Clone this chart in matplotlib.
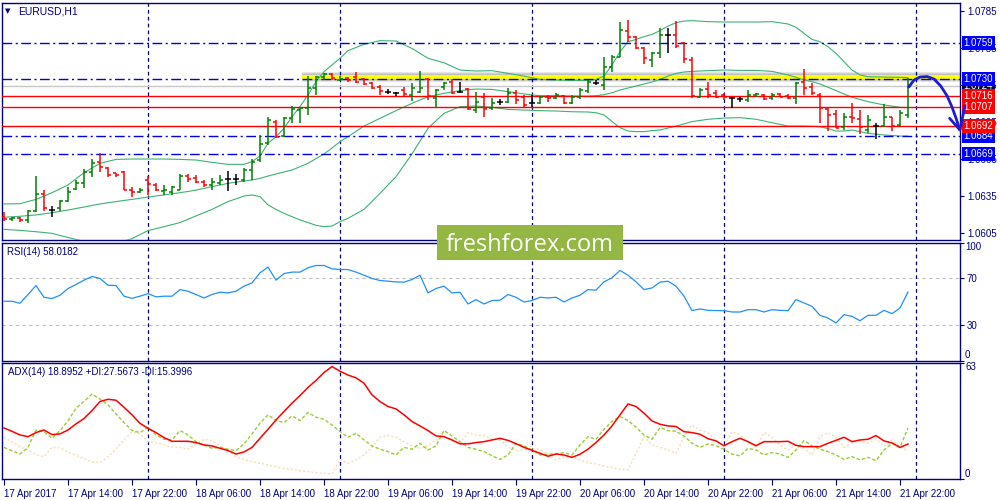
import numpy as np
import pandas as pd
import matplotlib.pyplot as plt
import matplotlib.transforms as mtransforms
from matplotlib.patches import Rectangle

plt.rcParams['font.family'] = ['Liberation Sans', 'DejaVu Sans']

# EURUSD H1 bars, first bar = 17 Apr 2017 06:00
open_ = [1.06184, 1.06163, 1.06171, 1.06157, 1.06233, 1.06368, 1.06239, 1.06252, 1.06311, 1.06411,
         1.06454, 1.06549, 1.06630, 1.06581, 1.06535, 1.06549, 1.06399, 1.06387, 1.06481, 1.06441,
         1.06395, 1.06387, 1.06403, 1.06513, 1.06494, 1.06467, 1.06441, 1.06459, 1.06486, 1.06486,
         1.06481, 1.06562, 1.06643, 1.06778, 1.06954, 1.06837, 1.06981, 1.07048, 1.07064, 1.07224,
         1.07313, 1.07340, 1.07291, 1.07304, 1.07313, 1.07296, 1.07264, 1.07232, 1.07197, 1.07183,
         1.07210, 1.07170, 1.07197, 1.07296, 1.07143, 1.07232, 1.07278, 1.07197, 1.07215, 1.07048,
         1.07151, 1.07064, 1.07110, 1.07116, 1.07188, 1.07156, 1.07102, 1.07102, 1.07156, 1.07143,
         1.07163, 1.07102, 1.07151, 1.07205, 1.07269, 1.07250, 1.07399, 1.07480, 1.07691, 1.07637,
         1.07547, 1.07453, 1.07507, 1.07656, 1.07656, 1.07593, 1.07453, 1.07156, 1.07215, 1.07183,
         1.07170, 1.07143, 1.07134, 1.07129, 1.07170, 1.07170, 1.07143, 1.07178, 1.07163, 1.07143,
         1.07278, 1.07232, 1.07170, 1.07053, 1.07016, 1.06913, 1.06989, 1.06973, 1.06886, 1.06918,
         1.06918, 1.06989, 1.06927, 1.07008]
high = [1.06225, 1.06179, 1.06184, 1.06239, 1.06516, 1.06403, 1.06271, 1.06319, 1.06422, 1.06481,
        1.06567, 1.06648, 1.06697, 1.06589, 1.06540, 1.06557, 1.06427, 1.06414, 1.06513, 1.06454,
        1.06441, 1.06433, 1.06527, 1.06527, 1.06521, 1.06481, 1.06494, 1.06521, 1.06557, 1.06527,
        1.06575, 1.06648, 1.06846, 1.06989, 1.06967, 1.06989, 1.07080, 1.07070, 1.07323, 1.07323,
        1.07350, 1.07350, 1.07323, 1.07313, 1.07359, 1.07304, 1.07278, 1.07250, 1.07215, 1.07197,
        1.07232, 1.07269, 1.07367, 1.07304, 1.07215, 1.07278, 1.07296, 1.07278, 1.07224, 1.07197,
        1.07183, 1.07143, 1.07134, 1.07224, 1.07210, 1.07170, 1.07170, 1.07163, 1.07170, 1.07183,
        1.07170, 1.07170, 1.07224, 1.07291, 1.07291, 1.07480, 1.07494, 1.07764, 1.07777, 1.07647,
        1.07561, 1.07521, 1.07710, 1.07710, 1.07772, 1.07601, 1.07480, 1.07224, 1.07278, 1.07210,
        1.07183, 1.07151, 1.07156, 1.07210, 1.07188, 1.07175, 1.07188, 1.07188, 1.07178, 1.07278,
        1.07377, 1.07264, 1.07183, 1.07075, 1.07048, 1.07026, 1.07102, 1.07048, 1.07008, 1.06945,
        1.07097, 1.06994, 1.07048, 1.07304]
low = [1.06152, 1.06152, 1.06144, 1.06136, 1.06225, 1.06233, 1.06179, 1.06233, 1.06306, 1.06399,
       1.06414, 1.06508, 1.06549, 1.06508, 1.06508, 1.06403, 1.06341, 1.06379, 1.06360, 1.06395,
       1.06360, 1.06360, 1.06399, 1.06467, 1.06454, 1.06427, 1.06403, 1.06441, 1.06395, 1.06441,
       1.06467, 1.06481, 1.06630, 1.06764, 1.06819, 1.06832, 1.06940, 1.06945, 1.07008, 1.07170,
       1.07291, 1.07291, 1.07286, 1.07278, 1.07264, 1.07250, 1.07215, 1.07170, 1.07175, 1.07164,
       1.07163, 1.07124, 1.07183, 1.07129, 1.07070, 1.07210, 1.07178, 1.07183, 1.07048, 1.07021,
       1.06989, 1.07048, 1.07089, 1.07102, 1.07097, 1.07075, 1.07075, 1.07097, 1.07116, 1.07134,
       1.07097, 1.07097, 1.07134, 1.07183, 1.07250, 1.07210, 1.07359, 1.07475, 1.07601, 1.07539,
       1.07421, 1.07399, 1.07467, 1.07512, 1.07547, 1.07426, 1.07143, 1.07143, 1.07143, 1.07143,
       1.07129, 1.07064, 1.07116, 1.07116, 1.07156, 1.07129, 1.07129, 1.07151, 1.07134, 1.07097,
       1.07170, 1.07170, 1.06945, 1.06881, 1.06900, 1.06886, 1.06945, 1.06854, 1.06859, 1.06810,
       1.06913, 1.06881, 1.06918, 1.06981]
close = [1.06165, 1.06173, 1.06157, 1.06233, 1.06368, 1.06252, 1.06239, 1.06311, 1.06387, 1.06454,
         1.06549, 1.06621, 1.06589, 1.06521, 1.06521, 1.06403, 1.06381, 1.06403, 1.06449, 1.06403,
         1.06399, 1.06422, 1.06516, 1.06492, 1.06467, 1.06441, 1.06467, 1.06481, 1.06486, 1.06486,
         1.06562, 1.06630, 1.06773, 1.06967, 1.06832, 1.06981, 1.07053, 1.07064, 1.07224, 1.07313,
         1.07340, 1.07304, 1.07302, 1.07291, 1.07278, 1.07259, 1.07224, 1.07205, 1.07197, 1.07183,
         1.07178, 1.07224, 1.07224, 1.07164, 1.07210, 1.07264, 1.07183, 1.07197, 1.07053, 1.07116,
         1.07053, 1.07107, 1.07110, 1.07188, 1.07129, 1.07089, 1.07102, 1.07156, 1.07143, 1.07170,
         1.07102, 1.07156, 1.07210, 1.07278, 1.07269, 1.07399, 1.07475, 1.07696, 1.07637, 1.07547,
         1.07467, 1.07512, 1.07656, 1.07656, 1.07566, 1.07458, 1.07163, 1.07210, 1.07170, 1.07156,
         1.07151, 1.07143, 1.07134, 1.07170, 1.07178, 1.07137, 1.07170, 1.07156, 1.07143, 1.07269,
         1.07224, 1.07183, 1.07064, 1.07008, 1.06900, 1.06994, 1.06981, 1.06913, 1.06967, 1.06918,
         1.06989, 1.06918, 1.07021, 1.07240]

# Bollinger bands (20, 2) read at these bar indices
band_idx = [0, 2, 4, 6, 8, 10, 12, 14, 16, 18, 20, 22, 24, 26, 28, 30,
            31, 32, 33, 34, 35, 36, 37, 38, 39, 40, 41, 42, 43,
            45, 47, 49, 51, 53, 55, 57, 59, 61, 63, 65, 67, 69, 71, 73,
            74, 75, 76, 77, 78, 79, 80, 81, 82, 83, 84, 85, 86,
            88, 90, 92, 94, 96, 98,
            99, 100, 101, 102, 103, 104, 105, 106, 107, 108,
            110, 112, 113]
bb_upper = [1.06287, 1.06289, 1.06324, 1.06378, 1.06441, 1.06540, 1.06616, 1.06648, 1.06651, 1.06651,
            1.06651, 1.06648, 1.06643, 1.06624, 1.06608, 1.06608,
            1.06630, 1.06675, 1.06778, 1.06832, 1.06900, 1.06994, 1.07075, 1.07170, 1.07278, 1.07359,
            1.07413, 1.07467, 1.07529,
            1.07580, 1.07610, 1.07607, 1.07547, 1.07467, 1.07431, 1.07372, 1.07364, 1.07367, 1.07345,
            1.07323, 1.07296, 1.07291, 1.07288, 1.07288,
            1.07296, 1.07323, 1.07413, 1.07521, 1.07601, 1.07620, 1.07642, 1.07661, 1.07691, 1.07728,
            1.07755, 1.07769, 1.07772,
            1.07764, 1.07761, 1.07761, 1.07761, 1.07764, 1.07745,
            1.07718, 1.07669, 1.07620, 1.07601, 1.07561, 1.07507, 1.07440, 1.07372, 1.07332, 1.07318,
            1.07315, 1.07313, 1.07310]
bb_middle = [1.06179, 1.06187, 1.06198, 1.06216, 1.06238, 1.06262, 1.06287, 1.06306, 1.06324, 1.06343,
             1.06360, 1.06378, 1.06399, 1.06427, 1.06454, 1.06473,
             1.06481, 1.06494, 1.06513, 1.06530, 1.06546, 1.06562, 1.06589, 1.06616, 1.06654, 1.06692,
             1.06740, 1.06792, 1.06832,
             1.06918, 1.06981, 1.07043, 1.07102, 1.07156, 1.07183, 1.07205, 1.07218, 1.07215, 1.07197,
             1.07178, 1.07164, 1.07164, 1.07161, 1.07161,
             1.07164, 1.07172, 1.07188, 1.07210, 1.07226, 1.07242, 1.07259, 1.07275, 1.07296, 1.07323,
             1.07345, 1.07356, 1.07361,
             1.07367, 1.07372, 1.07369, 1.07369, 1.07361, 1.07332,
             1.07313, 1.07291, 1.07278, 1.07259, 1.07232, 1.07205, 1.07178, 1.07151, 1.07134, 1.07116,
             1.07089, 1.07070, 1.07067]
bb_lower = [1.06081, 1.06073, 1.06062, 1.06049, 1.06015, 1.05984, 1.05968, 1.05968, 1.06006, 1.06071,
            1.06103, 1.06136, 1.06190, 1.06243, 1.06306, 1.06351,
            1.06360, 1.06346, 1.06279, 1.06243, 1.06211, 1.06184, 1.06157, 1.06136, 1.06114, 1.06103,
            1.06108, 1.06144, 1.06171,
            1.06243, 1.06373, 1.06508, 1.06692, 1.06900, 1.07021, 1.07075, 1.07080, 1.07070, 1.07053,
            1.07048, 1.07043, 1.07040, 1.07034, 1.07032,
            1.07026, 1.07008, 1.06954, 1.06905, 1.06878, 1.06873, 1.06873, 1.06881, 1.06886, 1.06902,
            1.06918, 1.06935, 1.06954,
            1.06973, 1.06983, 1.06986, 1.06973, 1.06945, 1.06918,
            1.06918, 1.06918, 1.06916, 1.06913, 1.06897, 1.06878, 1.06878, 1.06886, 1.06873, 1.06859,
            1.06846, 1.06837, 1.06837]

rsi = [50.2, 50.2, 48.5, 55.9, 63.5, 53.6, 52.5, 55.3, 61.0, 64.4,
       68.1, 71.2, 69.5, 63.8, 63.5, 54.5, 52.7, 54.5, 56.7, 53.9,
       54.5, 54.5, 60.1, 58.7, 55.9, 53.0, 55.9, 57.9, 57.3, 58.7,
       63.0, 65.8, 74.3, 79.1, 68.1, 73.7, 74.9, 74.9, 78.6, 80.5,
       80.5, 77.7, 77.1, 77.1, 74.9, 72.3, 69.5, 67.8, 67.2, 66.6,
       66.4, 68.6, 72.3, 57.3, 61.0, 63.0, 57.3, 57.9, 47.9, 51.6,
       47.9, 50.8, 51.1, 55.9, 53.6, 49.6, 50.8, 53.6, 53.0, 53.6,
       49.6, 53.0, 55.3, 60.1, 59.6, 66.7, 70.1, 76.3, 72.3, 66.7,
       60.1, 61.5, 66.4, 67.2, 63.0, 54.5, 42.3, 43.7, 42.5, 42.3,
       42.3, 41.1, 41.1, 43.1, 43.1, 41.1, 43.1, 42.5, 42.3, 51.6,
       48.8, 45.9, 38.3, 36.0, 31.8, 38.8, 37.4, 33.7, 38.3, 38.3,
       42.5, 39.7, 44.5, 58.0]

adx = [27.6, 25.8, 23.8, 22.9, 25.1, 26.5, 24.0, 24.4, 26.5, 29.8,
       32.7, 37.0, 41.9, 43.1, 42.6, 38.8, 34.7, 30.1, 27.4, 25.1,
       22.4, 20.4, 20.4, 20.4, 19.7, 18.4, 17.9, 16.6, 15.4, 13.5,
       14.6, 17.1, 22.0, 26.9, 31.9, 36.5, 41.0, 45.1, 49.5, 53.3,
       57.6, 60.8, 58.3, 56.2, 54.7, 51.8, 45.5, 41.9, 39.2, 37.9,
       34.7, 31.1, 28.7, 26.2, 23.3, 22.9, 21.1, 19.0, 19.0, 19.7,
       20.2, 21.1, 22.0, 20.9, 19.1, 17.1, 15.5, 13.9, 12.3, 13.5,
       13.0, 11.7, 13.4, 16.1, 19.7, 23.8, 28.7, 34.7, 40.6, 39.2,
       35.6, 31.4, 29.6, 28.7, 28.4, 25.6, 25.1, 24.2, 21.8, 20.6,
       18.0, 20.2, 22.0, 20.2, 18.0, 20.2, 20.2, 20.2, 20.4, 18.2,
       17.5, 17.5, 17.5, 19.3, 20.9, 22.6, 20.2, 21.1, 21.5, 23.5,
       20.6, 19.5, 17.1, 18.9]
plus_di = [17.1, 15.3, 13.5, 17.1, 26.5, 25.6, 22.0, 26.2, 31.4, 38.3,
           41.9, 45.9, 43.2, 40.1, 35.2, 30.5, 26.2, 25.1, 28.0, 23.8,
           21.5, 21.1, 26.2, 23.8, 20.2, 18.4, 16.6, 17.1, 16.1, 15.3,
           19.0, 24.4, 30.2, 34.7, 31.6, 30.5, 34.1, 31.6, 36.0, 33.4,
           32.3, 29.2, 25.6, 22.6, 24.7, 21.1, 17.9, 16.1, 14.8, 13.0,
           17.1, 16.1, 19.3, 15.7, 17.9, 26.2, 23.3, 20.2, 17.1, 16.1,
           14.8, 12.6, 10.6, 13.0, 19.3, 17.9, 15.7, 13.0, 13.5, 13.5,
           14.3, 13.0, 18.4, 22.9, 21.5, 26.9, 31.1, 33.8, 31.6, 28.0,
           23.8, 21.5, 27.8, 26.2, 25.8, 23.3, 19.3, 17.1, 19.0, 18.0,
           16.1, 13.5, 12.5, 16.6, 15.7, 13.0, 14.3, 13.5, 11.7, 15.7,
           20.8, 17.9, 16.1, 14.8, 13.0, 10.6, 12.1, 10.3, 11.7, 9.9,
           15.7, 19.3, 17.1, 27.6]
minus_di = [22.6, 20.0, 17.5, 15.7, 13.2, 12.1, 17.1, 16.8, 14.6, 12.8,
            11.0, 9.2, 8.8, 12.1, 16.2, 21.1, 25.5, 24.4, 20.2, 19.7,
            18.4, 17.1, 17.1, 16.1, 19.0, 21.5, 20.8, 17.9, 15.3, 12.1,
            10.6, 9.4, 8.5, 7.6, 6.7, 5.8, 5.2, 4.5, 4.0, 3.4,
            3.1, 2.7, 10.6, 8.5, 10.3, 13.0, 17.1, 22.6, 23.6, 22.6,
            20.2, 17.9, 16.6, 17.9, 21.1, 22.6, 21.5, 19.3, 25.1, 23.8,
            23.3, 21.5, 21.1, 17.1, 15.3, 16.1, 16.6, 16.1, 13.5, 10.3,
            12.1, 12.1, 10.3, 8.8, 8.1, 7.0, 6.3, 5.2, 4.9, 13.9,
            22.9, 18.4, 17.1, 15.7, 13.9, 22.9, 29.2, 26.5, 25.1, 21.1,
            17.1, 25.6, 23.8, 20.2, 16.6, 25.1, 22.6, 18.4, 15.7, 18.4,
            16.6, 13.0, 22.9, 25.1, 22.6, 17.1, 19.7, 20.2, 19.3, 21.5,
            17.9, 21.1, 17.1, 15.4]

levels_blue = [1.0759, 1.0730, 1.0684, 1.0669]
levels_red = [1.0716, 1.0707, 1.0692]
bid = 1.0724
zone_start = 37.25  # yellow resistance zone starts here (bar index)

price_ticks = [1.0605, 1.0635, 1.0665, 1.0695, 1.0725, 1.0755, 1.0785]
x_labels = ['17 Apr 2017', '17 Apr 14:00', '17 Apr 22:00', '18 Apr 06:00', '18 Apr 14:00',
            '18 Apr 22:00', '19 Apr 06:00', '19 Apr 14:00', '19 Apr 22:00', '20 Apr 06:00',
            '20 Apr 14:00', '20 Apr 22:00', '21 Apr 06:00', '21 Apr 14:00', '21 Apr 22:00']

# hand drawn forecast arrow (bar index, price)
arrow_path = [(113.1, 1.07234), (113.75, 1.07291), (114.5, 1.07315), (115.4, 1.07319),
              (116.25, 1.07299), (117.1, 1.07242), (117.9, 1.07161), (118.5, 1.07072),
              (119.0, 1.06983), (119.45, 1.06890)]
arrow_head = [(118.2, 1.06981), (119.5, 1.06886), (120.1, 1.07080)]

NAVY = '#000080'
W, H = 1000, 500
fig = plt.figure(figsize=(10, 5), dpi=100)
fig.patch.set_facecolor('white')


def px_axes(left, top, right, bottom):
    return fig.add_axes([left / W, 1 - bottom / H, (right - left) / W, (bottom - top) / H])


ax = px_axes(2, 3, 960, 239.5)
ax_rsi = px_axes(2, 242.5, 960, 360.5)
ax_adx = px_axes(2, 362.5, 960, 479)

bar_times = pd.date_range('2017-04-17 06:00', periods=120, freq='h')
separators = np.where(bar_times.hour == 0)[0]

for a in (ax, ax_rsi, ax_adx):
    a.set_xlim(-0.25, 119.5)
    for s in a.spines.values():
        s.set_color(NAVY)
        s.set_linewidth(1)
    for s in separators:
        a.axvline(s, color=NAVY, lw=0.9, ls=(0, (3, 2.5)), zorder=2)
    a.yaxis.tick_right()
    a.tick_params(axis='y', direction='out', length=3, width=0.8, colors=NAVY, labelsize=7, pad=2)

ax.tick_params(axis='x', bottom=False, labelbottom=False)
ax_rsi.tick_params(axis='x', bottom=False, labelbottom=False)

# ---- price panel ----
o, h, l, c = map(np.array, (open_, high, low, close))
xi = np.arange(len(c))
cols = np.where(c > o, '#008000', np.where(c < o, '#ff0000', '#000000'))
ax.vlines(xi, l, h, colors=cols, lw=1.1, zorder=4)
ax.hlines(o, xi - 0.4, xi, colors=cols, lw=1.1, zorder=4)
ax.hlines(c, xi, xi + 0.4, colors=cols, lw=1.1, zorder=4)

for band in (bb_upper, bb_middle, bb_lower):
    ax.plot(band_idx, band, color='#3cb371', lw=0.8, zorder=3)

# yellow zone with soft grey shadow
for k in range(6, 0, -1):
    ax.add_patch(Rectangle((zone_start, 1.07299 - k * 0.00004), 119.5 - zone_start,
                           0.00033 + 2 * k * 0.00004, fc='#808080', ec='none', alpha=0.1, zorder=1))
ax.add_patch(Rectangle((zone_start, 1.07299), 119.5 - zone_start, 0.00033,
                       fc='#ffff00', ec='none', zorder=1.5))

ax.axhline(bid, color='#c8c8c8', lw=1, zorder=2)
for v in levels_blue:
    ax.axhline(v, color='#0000e6', lw=1, ls=(0, (7, 2.5, 1.5, 2.5)), zorder=3)
for v in levels_red:
    ax.axhline(v, color='#ff0000', lw=1, zorder=3)

ax.set_ylim(1.05999, 1.07915)
ax.set_yticks(price_ticks)
ax.set_yticklabels([f'{v:.4f}' for v in price_ticks])

lab_tr = mtransforms.offset_copy(
    mtransforms.blended_transform_factory(ax.transAxes, ax.transData),
    fig=fig, x=3.5, y=0, units='dots')


def price_box(v, fc, z):
    ax.text(1.0, v, f'{v:.4f}', transform=lab_tr, ha='left', va='center', fontsize=7,
            color='white', zorder=z, clip_on=False,
            bbox=dict(boxstyle='square,pad=0.2', fc=fc, ec='none'))


price_box(bid, '#000040', 6)
for v in levels_blue:
    price_box(v, '#0000ff', 7)
for v in levels_red:
    price_box(v, '#ff0000', 7)

ax.plot(*zip(*arrow_path), color='#1c1cd6', lw=2, clip_on=False, zorder=8, solid_capstyle='round')
ax.plot(*zip(*arrow_head), color='#1c1cd6', lw=2, clip_on=False, zorder=8,
        solid_capstyle='round', solid_joinstyle='round')

# ---- RSI panel ----
ax_rsi.plot(xi, rsi, color='#1e90ff', lw=0.9, zorder=3)
for v in (30, 70):
    ax_rsi.axhline(v, color='#c0c0c0', lw=0.8, ls=(0, (3, 3)), zorder=1)
ax_rsi.set_ylim(0, 100)
ax_rsi.set_yticks([0, 30, 70, 100])
ax_rsi.set_yticklabels(['', '30', '70', ''])
rsi_tr = mtransforms.offset_copy(
    mtransforms.blended_transform_factory(ax_rsi.transAxes, ax_rsi.transData),
    fig=fig, x=5, y=0, units='dots')
ax_rsi.text(1.0, 100, '100', transform=rsi_tr, ha='left', va='top', fontsize=7, color=NAVY)
ax_rsi.text(1.0, 0, '0', transform=rsi_tr, ha='left', va='bottom', fontsize=7, color=NAVY)

# ---- ADX panel ----
ax_adx.plot(xi, minus_di, color='#f5deb3', lw=1, ls=(0, (1.5, 1.5)), zorder=3)
ax_adx.plot(xi, plus_di, color='#9acd32', lw=1, ls=(0, (2.5, 1.5)), zorder=3)
ax_adx.plot(xi, adx, color='#ff0000', lw=1.1, zorder=4)
ax_adx.set_ylim(0, 63)
ax_adx.set_yticks([0, 63])
ax_adx.set_yticklabels(['', ''])
adx_tr = mtransforms.offset_copy(
    mtransforms.blended_transform_factory(ax_adx.transAxes, ax_adx.transData),
    fig=fig, x=5, y=0, units='dots')
ax_adx.text(1.0, 63, '63', transform=adx_tr, ha='left', va='top', fontsize=7, color=NAVY)
ax_adx.text(1.0, 0, '0', transform=adx_tr, ha='left', va='bottom', fontsize=7, color=NAVY)

ax_adx.set_xticks(np.arange(len(x_labels)) * 8)
ax_adx.set_xticklabels(x_labels, ha='left')
ax_adx.tick_params(axis='x', direction='out', length=4, width=0.8, colors=NAVY, labelsize=7, pad=3)

# ---- captions ----
fig.text(5 / W, 1 - 11 / H, '\u25bc', fontsize=5, color=NAVY, va='center', family='DejaVu Sans')
fig.text(18 / W, 1 - 11 / H, 'EURUSD,H1', fontsize=7.5, color=NAVY, va='center')
fig.text(7 / W, 1 - 252 / H, 'RSI(14) 58.0182', fontsize=7, color=NAVY, va='center')
fig.text(8 / W, 1 - 372 / H, 'ADX(14) 18.8952 +DI:27.5673 -DI:15.3996', fontsize=7, color=NAVY, va='center')

# watermark
fig.add_artist(Rectangle((437 / W, 1 - 260 / H), 186 / W, 35 / H, transform=fig.transFigure,
                         fc='#94b743', ec='none', zorder=20))
fig.text(530 / W, 1 - 251 / H, 'freshforex.com', ha='center', va='baseline', fontsize=17,
         color='white', family=['Open Sans', 'DejaVu Sans'], zorder=21)

fig.savefig('out.png', dpi=100, facecolor='white')
